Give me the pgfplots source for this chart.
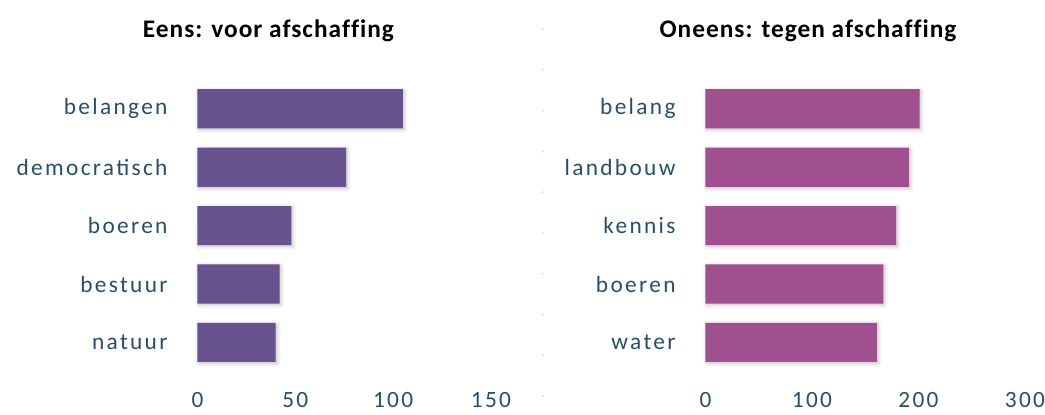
\documentclass[border=0pt]{standalone}
\usepackage{fontspec}
\setmainfont{Carlito}
\newfontfamily\lblfont[LetterSpace=10]{Carlito}
\newfontfamily\ttlfont[LetterSpace=4, Ligatures=NoCommon]{Carlito}
\usepackage{pgfplots}
\pgfplotsset{compat=1.18}
\usetikzlibrary{shadows.blur}

\definecolor{eens}{HTML}{67528F}
\definecolor{oneens}{HTML}{A0508F}
\definecolor{lbl}{HTML}{24506D}

\pgfplotsset{
  panel/.style={
    xbar, scale only axis, height=219pt,
    ymin=-0.5, ymax=4.5, xmin=0,
    bar width=0.67, ytick={0,...,4},
    axis line style={draw=none}, major tick style={draw=none},
    tick label style={font=\lblfont\fontsize{17.5}{20}\selectfont, text=lbl},
    /pgf/number format/assume math mode=true,
    xticklabel style={anchor=center, inner sep=0pt, yshift=-21.5pt},
    yticklabel style={anchor=east, inner sep=0pt, xshift=-18pt},
    title style={font=\ttlfont\bfseries\fontsize{19}{22}\selectfont, anchor=center},
    anchor=south west, clip=false,
    every axis plot/.append style={draw=none,
      blur shadow={shadow xshift=1pt, shadow yshift=-1pt, shadow blur radius=3pt, shadow opacity=25}},
  }
}

\begin{document}
\begin{tikzpicture}
\path[use as bounding box] (0,0) rectangle (783.75pt,310.5pt);

% faint separator
\foreach \i in {0,...,9}
  \fill[gray!25] (407pt,{(414-29-40.8*\i)*0.75pt}) circle (0.9pt);

\begin{axis}[panel,
  at={(148.1pt,31.8pt)}, width=220.1pt, xmax=150,
  xtick={0,50,100,150},
  yticklabels={natuur,bestuur,boeren,democratisch,belangen},
  title={Eens: voor afschaffing},
  title style={at={(axis description cs:0.242,1.14)}},
]
\addplot[fill=eens] coordinates {
  (40,0) (42,1) (48,2) (76,3) (105,4)
};
\end{axis}

\begin{axis}[panel,
  at={(529.1pt,31.8pt)}, width=239.6pt, xmax=300,
  xtick={0,100,200,300},
  yticklabels={water,boeren,kennis,landbouw,belang},
  title={Oneens: tegen afschaffing},
  title style={at={(axis description cs:0.321,1.14)}},
]
\addplot[fill=oneens] coordinates {
  (161,0) (167,1) (179,2) (191,3) (201,4)
};
\end{axis}
\end{tikzpicture}
\end{document}
